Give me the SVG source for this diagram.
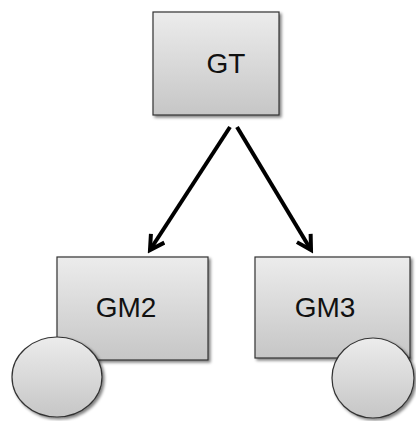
<svg xmlns="http://www.w3.org/2000/svg" width="416" height="421" viewBox="0 0 416 421">
<defs>
<linearGradient id="g" x1="0" y1="0" x2="0" y2="1">
<stop offset="0" stop-color="#ececec"/>
<stop offset="1" stop-color="#c6c6c6"/>
</linearGradient>
<filter id="sh" x="-10%" y="-10%" width="130%" height="130%">
<feGaussianBlur in="SourceAlpha" stdDeviation="1.5"/>
<feOffset dx="2" dy="2" result="b"/>
<feComponentTransfer><feFuncA type="linear" slope="0.5"/></feComponentTransfer>
<feMerge><feMergeNode/><feMergeNode in="SourceGraphic"/></feMerge>
</filter>
<marker id="ah" viewBox="0 0 10 10" refX="8" refY="5" markerWidth="5" markerHeight="5" orient="auto" markerUnits="strokeWidth">
<path d="M1,1 L8,5 L1,9" fill="none" stroke="#000" stroke-width="2"/>
</marker>
</defs>
<style>
.box{fill:url(#g);stroke:#333;stroke-width:1.2;filter:url(#sh)}
.lbl{font-family:"Liberation Sans",Arial,sans-serif;font-size:28px;fill:#111;text-anchor:middle}
.con{stroke:#000;stroke-width:4;fill:none;marker-end:url(#ah)}
</style>
<g id="connectors">
<line class="con" x1="230" y1="127" x2="150" y2="250"/>
<line class="con" x1="237" y1="127" x2="311" y2="250"/>
</g>
<g id="GT">
<rect class="box" x="153" y="12" width="126" height="103"/>
<text class="lbl" x="226" y="73">GT</text>
</g>
<g id="GM2">
<rect class="box" x="57" y="257" width="151" height="103"/>
<text class="lbl" x="126" y="317">GM2</text>
<ellipse class="box" cx="57" cy="377" rx="45" ry="40"/>
</g>
<g id="GM3">
<rect class="box" x="255" y="257" width="155" height="101"/>
<text class="lbl" x="325" y="317">GM3</text>
<ellipse class="box" cx="373" cy="378" rx="41" ry="40"/>
</g>
</svg>
